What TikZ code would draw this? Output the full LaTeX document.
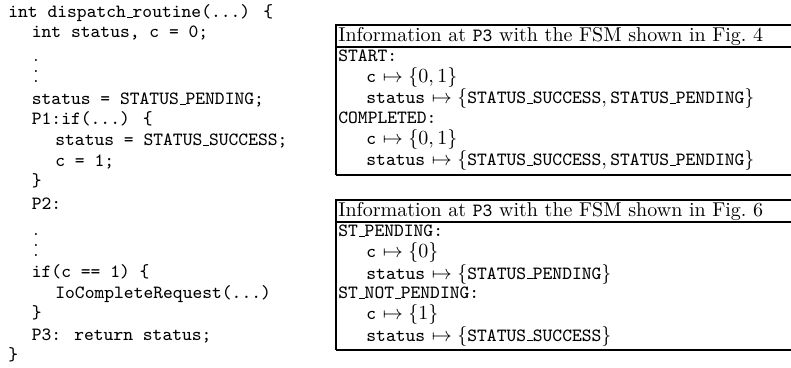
\documentclass[tikz,border=0pt]{standalone}
\newcommand\usc{\leavevmode\kern.06em\vbox{\hrule width.3em height 0.5pt}}
\newcommand\tcode[1]{\mbox{\fontsize{9.33}{10}\selectfont\ttfamily #1}}
\newcommand\mydots{\vbox{\baselineskip=5.25pt\lineskiplimit=0pt\hbox{.}\hbox{.}\hbox{.}}}
\begin{document}
\begin{tikzpicture}[x=0.5pt,y=-0.5pt,
  code/.style={anchor=base west,inner sep=0pt,font=\fontsize{9.33}{10}\selectfont\ttfamily},
  info/.style={anchor=base west,inner sep=0pt,font=\fontsize{10}{11}\selectfont},
  vdot/.style={anchor=base west,inner sep=0pt,font=\fontsize{9.33}{10}\selectfont},
  frame/.style={line width=0.6pt},
  frameb/.style={line width=1.1pt}]
\useasboundingbox (0,0) rectangle (791,368);
% code
\node[code] (l1) at (8,18) {int dispatch\usc routine(...) \{};
\node[code] (l2) at (31.5,38) {int status, c = 0;};
\node[vdot] (d1) at (33,83) {\mydots};
\node[code] (l3) at (31.5,105) {status = STATUS\usc PENDING;};
\node[code] (l4) at (31.5,125) {P1:if(...) \{};
\node[code] (l5) at (55,146) {status = STATUS\usc SUCCESS;};
\node[code] (l6) at (55,167) {c = 1;};
\node[code] (l7) at (31.5,187) {\}};
\node[code] (l8) at (31.5,210) {P2:};
\node[vdot] (d2) at (33,257) {\mydots};
\node[code] (l9) at (31.5,278) {if(c == 1) \{};
\node[code] (l10) at (55,299) {IoCompleteRequest(...)};
\node[code] (l11) at (31.5,319) {\}};
\node[code] (l12) at (31.5,340) {P3: return status;};
\node[code] (l13) at (8,360) {\}};
% box 1
\coordinate (b1tl) at (336,25);
\coordinate (b1tr) at (791,25);
\coordinate (b1sl) at (336,47);
\coordinate (b1sr) at (791,47);
\coordinate (b1bl) at (336,175);
\coordinate (b1br) at (791,175);
\draw[frame] (b1tr) -- (b1tl) -- (b1bl);
\draw[frame] (b1sl) -- (b1sr);
\draw[frameb] (b1bl) -- (b1br);
\node[info] (t1) at (338,41.5) {Information at \tcode{P3} with the FSM shown in Fig.~4};
\node[code] (s1) at (338,62) {START:};
\node[info] (s1c) at (366,83) {\tcode{c} $\mapsto \{0,1\}$};
\node[info] (s1s) at (366,104) {\tcode{status} $\mapsto \{\tcode{STATUS\usc SUCCESS}, \tcode{STATUS\usc PENDING}\}$};
\node[code] (s2) at (338,124) {COMPLETED:};
\node[info] (s2c) at (366,145) {\tcode{c} $\mapsto \{0,1\}$};
\node[info] (s2s) at (366,166) {\tcode{status} $\mapsto \{\tcode{STATUS\usc SUCCESS}, \tcode{STATUS\usc PENDING}\}$};
% box 2
\coordinate (b2tl) at (336,200);
\coordinate (b2tr) at (791,200);
\coordinate (b2sl) at (336,222);
\coordinate (b2sr) at (791,222);
\coordinate (b2bl) at (336,350);
\coordinate (b2br) at (791,350);
\draw[frame] (b2tr) -- (b2tl) -- (b2bl);
\draw[frame] (b2sl) -- (b2sr);
\draw[frameb] (b2bl) -- (b2br);
\node[info] (t2) at (338,216.5) {Information at \tcode{P3} with the FSM shown in Fig.~6};
\node[code] (s3) at (338,237) {ST\usc PENDING:};
\node[info] (s3c) at (366,258) {\tcode{c} $\mapsto \{0\}$};
\node[info] (s3s) at (366,279) {\tcode{status} $\mapsto \{\tcode{STATUS\usc PENDING}\}$};
\node[code] (s4) at (338,299) {ST\usc NOT\usc PENDING:};
\node[info] (s4c) at (366,320) {\tcode{c} $\mapsto \{1\}$};
\node[info] (s4s) at (366,341) {\tcode{status} $\mapsto \{\tcode{STATUS\usc SUCCESS}\}$};
\end{tikzpicture}
\end{document}
